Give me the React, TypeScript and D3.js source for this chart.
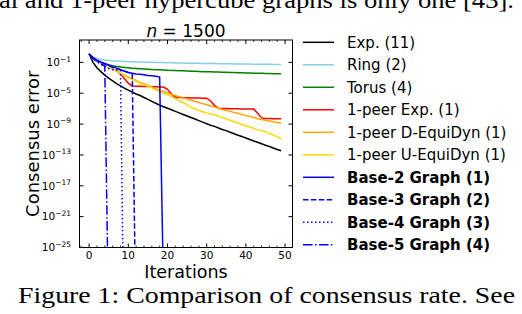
import React from 'react';
import * as d3 from 'd3';

// log10 of consensus error, iterations 0..49
const iterations = d3.range(0, 50);

const expLog = [0.08, -1.0, -1.7, -2.2, -2.65, -3.05, -3.4, -3.75, -4.05, -4.35, -4.6, -4.85, -5.1, -5.3, -5.55, -5.8, -6.05, -6.3, -6.55, -6.75, -6.95, -7.15, -7.35, -7.55, -7.75, -7.95, -8.15, -8.35, -8.55, -8.75, -8.95, -9.15, -9.3, -9.5, -9.7, -9.85, -10.05, -10.25, -10.45, -10.6, -10.8, -11.0, -11.2, -11.35, -11.55, -11.75, -11.9, -12.1, -12.3, -12.45];
const ringLog = [0.08, -0.3, -0.48, -0.6, -0.68, -0.74, -0.78, -0.82, -0.85, -0.88, -0.9, -0.92, -0.94, -0.96, -0.97, -0.99, -1.0, -1.01, -1.02, -1.03, -1.05, -1.06, -1.07, -1.08, -1.09, -1.1, -1.11, -1.12, -1.13, -1.14, -1.15, -1.15, -1.16, -1.17, -1.18, -1.18, -1.19, -1.2, -1.2, -1.21, -1.22, -1.22, -1.23, -1.24, -1.24, -1.25, -1.25, -1.26, -1.27, -1.27];
const torusLog = [0.08, -0.45, -0.8, -1.05, -1.22, -1.35, -1.45, -1.53, -1.6, -1.66, -1.71, -1.75, -1.79, -1.83, -1.86, -1.89, -1.92, -1.95, -1.97, -2.0, -2.02, -2.04, -2.06, -2.08, -2.1, -2.12, -2.14, -2.16, -2.18, -2.2, -2.21, -2.23, -2.25, -2.26, -2.28, -2.29, -2.31, -2.32, -2.34, -2.35, -2.37, -2.38, -2.4, -2.41, -2.42, -2.44, -2.45, -2.46, -2.48, -2.49];
const onePeerExpLog = [0.08, -0.4, -0.75, -1.05, -1.35, -1.6, -1.85, -2.1, -2.5, -3.1, -3.7, -4.05, -4.08, -4.1, -4.12, -4.13, -4.15, -4.16, -4.18, -4.2, -4.5, -5.1, -5.55, -5.57, -5.58, -5.6, -5.61, -5.62, -5.63, -5.64, -5.65, -6.0, -6.6, -6.95, -6.97, -6.98, -7.0, -7.01, -7.02, -7.03, -7.04, -7.05, -7.06, -7.6, -8.2, -8.28, -8.29, -8.3, -8.31, -8.32];
const dEquiLog = [0.08, -0.35, -0.7, -1.0, -1.3, -1.6, -1.85, -2.1, -2.4, -2.65, -2.9, -3.15, -3.35, -3.6, -3.8, -4.0, -4.2, -4.4, -4.6, -4.8, -4.95, -5.15, -5.3, -5.45, -5.6, -5.75, -5.9, -6.05, -6.2, -6.35, -6.5, -6.65, -6.8, -6.95, -7.1, -7.2, -7.35, -7.5, -7.6, -7.75, -7.9, -8.0, -8.15, -8.3, -8.4, -8.5, -8.6, -8.7, -8.8, -8.9];
const uEquiLog = [0.08, -0.4, -0.75, -1.05, -1.35, -1.65, -1.9, -2.15, -2.45, -2.7, -3.0, -3.2, -3.45, -3.7, -3.9, -4.1, -4.3, -4.55, -4.8, -5.0, -5.2, -5.4, -5.7, -5.95, -6.2, -6.5, -6.8, -7.05, -7.2, -7.4, -7.55, -7.7, -7.8, -7.95, -8.15, -8.3, -8.5, -8.7, -8.85, -9.05, -9.25, -9.35, -9.55, -9.75, -9.85, -9.95, -10.2, -10.4, -10.65, -10.9];
const base2Log = [0.08, -0.4, -0.7, -0.95, -1.15, -1.35, -1.55, -1.75, -1.95, -2.15, -2.3, -2.4, -2.5, -2.55, -2.6, -2.7, -2.75, -2.8, -2.9, -31];
const base3Log = [0.08, -0.45, -0.8, -1.05, -1.25, -1.45, -1.65, -1.8, -1.95, -2.1, -2.3, -2.5, -36];
const base4Log = [0.08, -0.5, -0.9, -1.25, -1.55, -1.8, -1.95, -2.0, -2.05, -40];
const base5Log = [0.08, -0.5, -0.9, -1.2, -1.5, -36];

const xTicks = [0, 10, 20, 30, 40, 50];
const yTickExps = [-1, -5, -9, -13, -17, -21, -25];

const series = [
  { name: 'Exp. (11)', values: expLog, color: '#000000', dash: null, bold: false },
  { name: 'Ring (2)', values: ringLog, color: '#87ceeb', dash: null, bold: false },
  { name: 'Torus (4)', values: torusLog, color: '#008000', dash: null, bold: false },
  { name: '1-peer Exp. (1)', values: onePeerExpLog, color: '#ff0000', dash: null, bold: false },
  { name: '1-peer D-EquiDyn (1)', values: dEquiLog, color: '#ffa500', dash: null, bold: false },
  { name: '1-peer U-EquiDyn (1)', values: uEquiLog, color: '#ffd700', dash: null, bold: false },
  { name: 'Base-2 Graph (1)', values: base2Log, color: '#0000ff', dash: null, bold: true },
  { name: 'Base-3 Graph (2)', values: base3Log, color: '#0000ff', dash: '5.5,2.4', bold: true },
  { name: 'Base-4 Graph (3)', values: base4Log, color: '#0000ff', dash: '1.5,2.5', bold: true },
  { name: 'Base-5 Graph (4)', values: base5Log, color: '#0000ff', dash: '9.6,2.4,1.5,2.4', bold: true },
];

const left = 79.5, right = 292.5, top = 40, bottom = 247.5;
const font = 'DejaVu Sans';

export default function App() {
  const x = d3.scaleLinear().domain([-2.45, 51.9]).range([left, right]);
  const y = d3.scaleLog().domain([1e-25, Math.pow(10, 1.9)]).range([bottom, top]);
  const line = d3.line<number>()
    .x((_, i) => x(iterations[i]))
    .y(v => y(Math.pow(10, v)));

  const minorX = d3.range(-2, 52, 2).filter(v => v % 10 !== 0);

  return (
    <svg width={522} height={314} style={{ position: 'absolute', left: 0, top: 0 }}>
      <rect width={522} height={314} fill="#fff" />
      <text x={-1} y={7.5} fontFamily="Liberation Serif" fontSize={23} textLength={515} lengthAdjust="spacingAndGlyphs">al and 1-peer hypercube graphs is only one [43].</text>
      <defs>
        <clipPath id="plot">
          <rect x={left} y={top} width={right - left} height={bottom - top} />
        </clipPath>
      </defs>
      <g clipPath="url(#plot)" fill="none" strokeWidth={1.5}>
        {series.map(s => (
          <path key={s.name} d={line(s.values) || ''} stroke={s.color}
            strokeDasharray={s.dash || undefined} />
        ))}
      </g>
      <rect x={left} y={top} width={right - left} height={bottom - top} fill="none" stroke="#000" strokeWidth={1} />
      {xTicks.map(t => (
        <g key={t}>
          <line x1={x(t)} x2={x(t)} y1={bottom} y2={bottom - 4} stroke="#000" />
          <line x1={x(t)} x2={x(t)} y1={top} y2={top + 4} stroke="#000" />
          <text x={x(t)} y={259} textAnchor="middle" fontFamily={font} fontSize={10.5}>{t}</text>
        </g>
      ))}
      {minorX.map(t => (
        <g key={'m' + t}>
          <line x1={x(t)} x2={x(t)} y1={bottom} y2={bottom - 2} stroke="#000" strokeWidth={0.8} />
          <line x1={x(t)} x2={x(t)} y1={top} y2={top + 2} stroke="#000" strokeWidth={0.8} />
        </g>
      ))}
      {yTickExps.map(e => (
        <g key={e}>
          <line x1={left} x2={left + 4} y1={y(Math.pow(10, e))} y2={y(Math.pow(10, e))} stroke="#000" />
          <line x1={right} x2={right - 4} y1={y(Math.pow(10, e))} y2={y(Math.pow(10, e))} stroke="#000" />
          <text x={71} y={y(Math.pow(10, e)) + 3.8} textAnchor="end" fontFamily={font} fontSize={10.5}>
            10<tspan fontSize={7.5} dy={-4.5}>{'\u2212' + Math.abs(e)}</tspan>
          </text>
        </g>
      ))}
      <text x={(left + right) / 2} y={36.5} textAnchor="middle" fontFamily={font} fontSize={17}>
        <tspan fontStyle="italic">n</tspan> = 1500
      </text>
      <text x={(left + right) / 2} y={278} textAnchor="middle" fontFamily={font} fontSize={17.5}>Iterations</text>
      <text transform={`translate(38.5, ${(top + bottom) / 2}) rotate(-90)`} textAnchor="middle" fontFamily={font} fontSize={18}>Consensus error</text>
      {series.map((s, i) => {
        const cy = 42.3 + i * 22.5;
        return (
          <g key={'leg' + s.name}>
            <line x1={303} x2={334} y1={cy} y2={cy} stroke={s.color} strokeWidth={1.5}
              strokeDasharray={s.dash || undefined} />
            <text x={347} y={cy + 5.3} fontFamily={font} fontSize={15} fontWeight={s.bold ? 'bold' : 'normal'}>{s.name}</text>
          </g>
        );
      })}
      <text x={18} y={303} fontFamily="Liberation Serif" fontSize={24} textLength={497} lengthAdjust="spacingAndGlyphs">Figure 1: Comparison of consensus rate. See</text>
    </svg>
  );
}
